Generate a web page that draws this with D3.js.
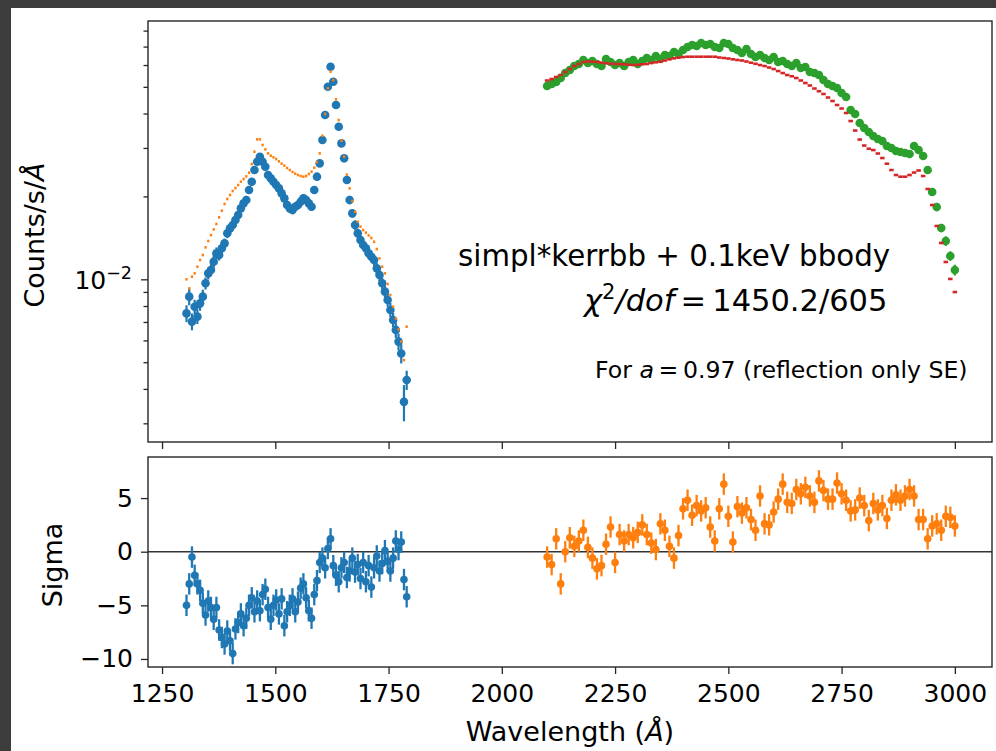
<!DOCTYPE html>
<html>
<head>
<meta charset="utf-8">
<script src="https://d3js.org/d3.v7.min.js"></script>
<style>
  body { margin: 0; background: #3c3c3c; }
  svg { display: block; }
  text { font-family: "DejaVu Sans", sans-serif; fill: #000; }
</style>
</head>
<body>
<svg id="chart" width="996" height="751"></svg>
<script>
// ---- UV segment (blue data, orange model) ----
var uvWave = [1304,1310,1316,1322,1328,1334,1340,1346,1352,1358,1364,1370,1376,1382,1388,1394,1400,1406,1412,1418,
              1424,1430,1436,1442,1448,1454,1460,1466,1472,1478,1484,1490,1496,1502,1508,1514,1520,1526,1532,1538,
              1544,1550,1556,1562,1568,1574,1580,1586,1592,1598,1604,1610,1616,1622,1628,1634,1640,1646,1652,1658,
              1664,1670,1676,1682,1688,1694,1700,1706,1712,1718,1724,1730,1736,1742,1748,1754,1760,1766,1772,1778,
              1784,1790];
var uvFlux = [0.00752,0.00865,0.00702,0.00795,0.00732,0.00818,0.00865,0.00967,0.01051,0.01081,
              0.01159,0.01243,0.01225,0.01296,0.01351,0.01469,0.01531,0.01575,0.01642,0.01712,
              0.01810,0.01887,0.01941,0.02110,0.02262,0.02494,0.02674,0.02788,0.02674,0.02564,
              0.02392,0.02326,0.02262,0.02200,0.02139,0.02052,0.01968,0.01861,0.01810,0.01785,
              0.01835,0.01861,0.01914,0.01968,0.01941,0.01887,0.01835,0.02110,0.02359,0.02637,
              0.03205,0.03950,0.05006,0.05917,0.05219,0.04295,0.03583,0.03116,0.02750,0.02294,
              0.01941,0.01736,0.01575,0.01469,0.01389,0.01332,0.01296,0.01243,0.01208,0.01175,
              0.01096,0.01037,0.00967,0.00902,0.00841,0.00774,0.00712,0.00655,0.00594,0.00538,
              0.00359,0.00431];
var uvRelErr = [0.07,0.07,0.07,0.06,0.06,0.06,0.06,0.05,0.05,0.05,
                0.05,0.05,0.045,0.045,0.04,0.04,0.04,0.04,0.04,0.035,
                0.035,0.035,0.035,0.03,0.03,0.03,0.03,0.03,0.03,0.03,
                0.03,0.03,0.03,0.03,0.035,0.035,0.035,0.035,0.035,0.035,
                0.035,0.035,0.035,0.035,0.035,0.035,0.035,0.03,0.03,0.03,
                0.025,0.025,0.02,0.02,0.02,0.025,0.025,0.03,0.03,0.03,
                0.035,0.035,0.04,0.04,0.04,0.04,0.04,0.04,0.045,0.045,
                0.045,0.05,0.05,0.05,0.055,0.06,0.06,0.065,0.07,0.08,
                0.15,0.08];
var uvModel = [0.01000,0.00927,0.01022,0.01051,0.01111,0.01175,0.01225,0.01306,0.01377,0.01448,
               0.01518,0.01588,0.01679,0.01775,0.01877,0.01957,0.02024,0.02092,0.02145,0.02200,
               0.02262,0.02313,0.02365,0.02439,0.02622,0.02906,0.03223,0.03223,0.03074,0.02964,
               0.02867,0.02811,0.02773,0.02734,0.02681,0.02630,0.02586,0.02536,0.02494,0.02453,
               0.02419,0.02392,0.02372,0.02359,0.02372,0.02412,0.02459,0.02543,0.02666,0.02867,
               0.03323,0.03984,0.04936,0.05675,0.05292,0.04503,0.03788,0.03187,0.02788,0.02399,
               0.02139,0.01925,0.01760,0.01619,0.01553,0.01510,0.01477,0.01444,0.01413,0.01369,
               0.01288,0.01191,0.01111,0.01051,0.00961,0.00877,0.00795,0.00721,0.00658,0.00594,
               0.00509,0.00673];
var uvSigma = [-5.0,-3.0,-0.5,-2.2,-3.0,-3.6,-4.8,-5.9,-4.6,-5.2,
               -6.3,-5.2,-7.3,-8.0,-8.6,-7.4,-8.3,-9.5,-7.2,-6.6,
               -5.8,-6.9,-6.2,-5.0,-4.3,-5.6,-4.6,-5.5,-4.0,-3.5,
               -5.2,-6.3,-5.0,-4.5,-5.8,-4.4,-6.9,-5.6,-5.0,-4.4,
               -5.6,-4.7,-3.4,-3.0,-4.3,-5.5,-6.2,-4.0,-2.7,-1.0,
               -0.6,-1.5,0.3,1.2,-1.3,-2.2,-2.8,-1.5,-1.0,-2.4,
               -1.8,-0.6,-1.9,-1.2,-2.5,-1.0,-2.8,-1.3,-3.3,-1.5,
               -0.4,-1.8,-1.1,0.1,-0.9,-1.8,-0.6,1.0,0.2,0.9,
               -2.6,-4.2];

// ---- NUV segment (green data, red model) ----
var nuvWave = [2100,2110,2120,2130,2140,2150,2160,2170,2180,2190,2200,2210,2220,2230,2240,2250,2260,2270,2280,2290,
               2300,2310,2320,2330,2340,2350,2360,2370,2380,2390,2400,2410,2420,2430,2440,2450,2460,2470,2480,2490,
               2500,2510,2520,2530,2540,2550,2560,2570,2580,2590,2600,2610,2620,2630,2640,2650,2660,2670,2680,2690,
               2700,2710,2720,2730,2740,2750,2760,2770,2780,2790,2800,2810,2820,2830,2840,2850,2860,2870,2880,2890,
               2900,2910,2920,2930,2940,2950,2960,2970,2980,2990,3000];
var nuvFlux = [0.05034,0.05119,0.05205,0.05382,0.05611,0.05754,0.05950,0.06051,0.06257,0.06102,
               0.06205,0.06051,0.05950,0.06309,0.06153,0.06000,0.06102,0.05950,0.06153,0.06257,
               0.06051,0.06205,0.06362,0.06257,0.06469,0.06309,0.06524,0.06469,0.06690,0.06579,
               0.06802,0.06975,0.07092,0.07033,0.07211,0.07092,0.07152,0.06975,0.06917,0.07211,
               0.07152,0.06917,0.06802,0.06633,0.06860,0.06579,0.06415,0.06524,0.06362,0.06257,
               0.06415,0.06153,0.06205,0.06051,0.05950,0.06102,0.05851,0.05901,0.05658,0.05611,
               0.05518,0.05292,0.05119,0.05034,0.04951,0.04748,0.04592,0.04119,0.03984,0.03695,
               0.03543,0.03427,0.03314,0.03232,0.03178,0.03048,0.02997,0.02923,0.02899,0.02875,
               0.02851,0.03048,0.02947,0.02804,0.02494,0.02075,0.01830,0.01536,0.01377,0.01215,
               0.01081];
var nuvRelErr = [0.025,0.025,0.025,0.025,0.025,0.025,0.025,0.025,0.025,0.025,
                 0.025,0.025,0.025,0.025,0.025,0.025,0.025,0.025,0.025,0.025,
                 0.025,0.025,0.025,0.025,0.025,0.025,0.025,0.025,0.025,0.025,
                 0.025,0.025,0.025,0.025,0.025,0.025,0.025,0.025,0.025,0.025,
                 0.025,0.025,0.025,0.025,0.025,0.025,0.025,0.025,0.025,0.025,
                 0.025,0.025,0.025,0.025,0.025,0.025,0.025,0.025,0.025,0.025,
                 0.025,0.025,0.025,0.025,0.025,0.025,0.025,0.025,0.025,0.025,
                 0.025,0.025,0.025,0.025,0.025,0.025,0.025,0.025,0.025,0.025,
                 0.025,0.025,0.025,0.025,0.03,0.03,0.035,0.035,0.04,0.04,
                 0.045];
var nuvModel = [0.05271,0.05337,0.05427,0.05518,0.05658,0.05802,0.05950,0.06051,0.06153,0.06179,
                0.06168,0.06153,0.06118,0.06087,0.06072,0.06051,0.06051,0.06036,0.06016,0.06000,
                0.06011,0.06036,0.06051,0.06102,0.06138,0.06168,0.06231,0.06293,0.06346,0.06378,
                0.06415,0.06432,0.06432,0.06432,0.06432,0.06432,0.06432,0.06432,0.06389,0.06362,
                0.06335,0.06293,0.06257,0.06231,0.06179,0.06118,0.06062,0.06000,0.05950,0.05876,
                0.05802,0.05706,0.05611,0.05518,0.05463,0.05382,0.05271,0.05162,0.05055,0.04930,
                0.04820,0.04709,0.04573,0.04441,0.04295,0.04171,0.04017,0.03757,0.03470,0.03218,
                0.03061,0.02980,0.02947,0.02863,0.02757,0.02629,0.02494,0.02392,0.02358,0.02358,
                0.02392,0.02442,0.02484,0.02372,0.02128,0.01861,0.01562,0.01355,0.01156,0.01003,
                0.00899];
var nuvSigma = [-0.5,-1.2,1.2,-3.0,0.0,1.3,0.5,1.0,2.0,0.4,
                -0.6,-1.6,-1.3,0.7,2.3,-1.0,1.6,1.0,1.6,1.3,
                1.8,2.5,1.6,0.8,0.2,2.6,2.0,0.5,-0.6,1.5,
                4.0,4.8,3.4,4.3,3.8,4.1,2.3,1.0,4.0,6.3,
                3.3,0.9,4.2,3.6,4.1,3.0,2.0,5.2,2.6,2.5,
                3.7,4.9,6.3,4.6,4.5,5.8,5.4,6.0,5.2,4.6,
                6.6,5.7,4.9,4.9,6.4,5.4,4.8,3.8,3.9,5.0,
                4.3,2.9,4.5,3.9,4.3,3.1,4.8,5.3,4.8,5.2,
                5.8,5.2,3.0,3.0,1.2,2.4,2.6,2.0,3.3,3.2,
                2.4];

// ---- ticks ----
var xTicks      = [1250, 1500, 1750, 2000, 2250, 2500, 2750, 3000];
var topMinor    = [0.003, 0.004, 0.005, 0.006, 0.007, 0.008, 0.009, 0.02, 0.03, 0.04, 0.05, 0.06, 0.07, 0.08];
var sigmaTicks  = [-10, -5, 0, 5];

var C = { blue: "#1f77b4", orange: "#ff7f0e", green: "#2ca02c", red: "#d62728", axis: "#262626" };

var svg = d3.select("#chart");
svg.append("rect").attr("x", 11).attr("y", 8).attr("width", 985).attr("height", 743).attr("fill", "#fff");

var left = 148, right = 992;
var topY0 = 21, topY1 = 442, botY0 = 457, botY1 = 667;

var x    = d3.scaleLinear().domain([1219, 3082]).range([left, right]);
var yTop = d3.scaleLog().domain([0.002566, 0.0867]).range([topY1, topY0]);
var yBot = d3.scaleLinear().domain([-10.75, 8.83]).range([botY1, botY0]);

var defs = svg.append("defs");
defs.append("clipPath").attr("id", "clipTop").append("rect")
    .attr("x", left).attr("y", topY0).attr("width", right - left).attr("height", topY1 - topY0);
defs.append("clipPath").attr("id", "clipBot").append("rect")
    .attr("x", left).attr("y", botY0).attr("width", right - left).attr("height", botY1 - botY0);

var gTop = svg.append("g").attr("clip-path", "url(#clipTop)");
var gBot = svg.append("g").attr("clip-path", "url(#clipBot)");

// data points with vertical error bars (top panel)
function drawData(g, wave, flux, relErr, color) {
  var pts = wave.map(function(w, i) { return { w: w, v: flux[i], e: flux[i] * relErr[i] }; });
  g.append("g").selectAll("line").data(pts).enter().append("line")
    .attr("x1", function(d) { return x(d.w); })
    .attr("x2", function(d) { return x(d.w); })
    .attr("y1", function(d) { return yTop(d.v - d.e); })
    .attr("y2", function(d) { return yTop(d.v + d.e); })
    .attr("stroke", color).attr("stroke-width", 2.2);
  g.append("g").selectAll("circle").data(pts).enter().append("circle")
    .attr("cx", function(d) { return x(d.w); })
    .attr("cy", function(d) { return yTop(d.v); })
    .attr("r", 4.3).attr("fill", color);
}

// model drawn as short horizontal bin segments
function drawModel(g, wave, model, color, frac) {
  var pts = wave.map(function(w, i) {
    var lo = i > 0 ? (wave[i - 1] + w) / 2 : w - (wave[1] - wave[0]) / 2;
    var hi = i < wave.length - 1 ? (wave[i + 1] + w) / 2 : w + (w - wave[i - 1]) / 2;
    return { w: w, lo: lo, hi: hi, v: model[i] };
  });
  g.append("g").selectAll("line").data(pts).enter().append("line")
    .attr("x1", function(d) { return x(d.w) - (x(d.hi) - x(d.lo)) * frac / 2; })
    .attr("x2", function(d) { return x(d.w) + (x(d.hi) - x(d.lo)) * frac / 2; })
    .attr("y1", function(d) { return yTop(d.v); })
    .attr("y2", function(d) { return yTop(d.v); })
    .attr("stroke", color).attr("stroke-width", 2.6);
}

// residuals, error bar of one sigma
function drawResid(g, wave, sig, color) {
  var pts = wave.map(function(w, i) { return { w: w, s: sig[i] }; });
  g.append("g").selectAll("line").data(pts).enter().append("line")
    .attr("x1", function(d) { return x(d.w); })
    .attr("x2", function(d) { return x(d.w); })
    .attr("y1", function(d) { return yBot(d.s - 1); })
    .attr("y2", function(d) { return yBot(d.s + 1); })
    .attr("stroke", color).attr("stroke-width", 2.3);
  g.append("g").selectAll("circle").data(pts).enter().append("circle")
    .attr("cx", function(d) { return x(d.w); })
    .attr("cy", function(d) { return yBot(d.s); })
    .attr("r", 3.8).attr("fill", color);
}

drawData(gTop, uvWave, uvFlux, uvRelErr, C.blue);
drawModel(gTop, uvWave, uvModel, C.orange, 0.85);
drawData(gTop, nuvWave, nuvFlux, nuvRelErr, C.green);
drawModel(gTop, nuvWave, nuvModel, C.red, 1.0);

gBot.append("line").attr("x1", left).attr("x2", right)
    .attr("y1", yBot(0)).attr("y2", yBot(0))
    .attr("stroke", "#333").attr("stroke-width", 1.6);
drawResid(gBot, uvWave, uvSigma, C.blue);
drawResid(gBot, nuvWave, nuvSigma, C.orange);

// ---- axes ----
function styleAxis(g, fs) {
  g.select(".domain").remove();
  g.selectAll(".tick line").attr("stroke", C.axis).attr("stroke-width", 1.3);
  g.selectAll(".tick text").attr("font-family", "DejaVu Sans").attr("font-size", fs).attr("fill", "#000");
  g.attr("font-family", null).attr("font-size", null);
}

var fmt = function(d) { return d < 0 ? "\u2212" + Math.abs(d) : String(d); };

var axTopX = svg.append("g").attr("transform", "translate(0," + topY1 + ")")
  .call(d3.axisBottom(x).tickValues(xTicks).tickSize(7).tickSizeOuter(0).tickFormat(""));
styleAxis(axTopX, 25);

var axBotX = svg.append("g").attr("transform", "translate(0," + botY1 + ")")
  .call(d3.axisBottom(x).tickValues(xTicks).tickSize(7).tickSizeOuter(0).tickPadding(10).tickFormat(fmt));
styleAxis(axBotX, 25);

var axTopYMinor = svg.append("g").attr("transform", "translate(" + left + ",0)")
  .call(d3.axisLeft(yTop).tickValues(topMinor).tickSize(4.5).tickSizeOuter(0).tickFormat(""));
styleAxis(axTopYMinor, 25);

var axTopYMajor = svg.append("g").attr("transform", "translate(" + left + ",0)")
  .call(d3.axisLeft(yTop).tickValues([0.01]).tickSize(7).tickSizeOuter(0).tickFormat(""));
styleAxis(axTopYMajor, 25);

var lab = svg.append("text").attr("x", 132).attr("y", yTop(0.01) + 10)
  .attr("text-anchor", "end").attr("font-size", 25);
lab.append("tspan").text("10");
lab.append("tspan").attr("dy", -10).attr("font-size", 17.5).text("\u22122");

var axBotY = svg.append("g").attr("transform", "translate(" + left + ",0)")
  .call(d3.axisLeft(yBot).tickValues(sigmaTicks).tickSize(7).tickSizeOuter(0).tickPadding(8).tickFormat(fmt));
styleAxis(axBotY, 25);

// frames
[[topY0, topY1], [botY0, botY1]].forEach(function(b) {
  svg.append("rect").attr("x", left).attr("y", b[0])
    .attr("width", right - left).attr("height", b[1] - b[0])
    .attr("fill", "none").attr("stroke", C.axis).attr("stroke-width", 1.4);
});

// ---- labels ----
var xl = svg.append("text").attr("x", (left + right) / 2).attr("y", 741)
  .attr("text-anchor", "middle").attr("font-size", 27);
xl.append("tspan").text("Wavelength (");
xl.append("tspan").attr("font-style", "italic").text("\u00c5");
xl.append("tspan").text(")");

var yl = svg.append("text").attr("transform", "translate(44," + 235 + ") rotate(-90)")
  .attr("text-anchor", "middle").attr("font-size", 27);
yl.append("tspan").text("Counts/s/");
yl.append("tspan").attr("font-style", "italic").text("\u00c5");

svg.append("text").attr("transform", "translate(62," + 565 + ") rotate(-90)")
  .attr("text-anchor", "middle").attr("font-size", 27).text("Sigma");

// ---- annotations ----
svg.append("text").attr("x", 458).attr("y", 266).attr("font-size", 29.3)
  .text("simpl*kerrbb + 0.1keV bbody");

var chi = svg.append("text").attr("x", 584).attr("y", 311).attr("font-size", 30.5);
chi.append("tspan").attr("font-style", "italic").text("\u03c7");
chi.append("tspan").attr("dy", -12).attr("font-size", 21).text("2");
chi.append("tspan").attr("dy", 12).attr("font-style", "italic").text("/dof");
chi.append("tspan").text("\u2009=\u2009" + "1450.2/605");

var forA = svg.append("text").attr("x", 595).attr("y", 378).attr("font-size", 23.6);
forA.append("tspan").text("For ");
forA.append("tspan").attr("font-style", "italic").text("a");
forA.append("tspan").text("\u2009=\u20090.97 (reflection only SE)");
</script>
</body>
</html>
